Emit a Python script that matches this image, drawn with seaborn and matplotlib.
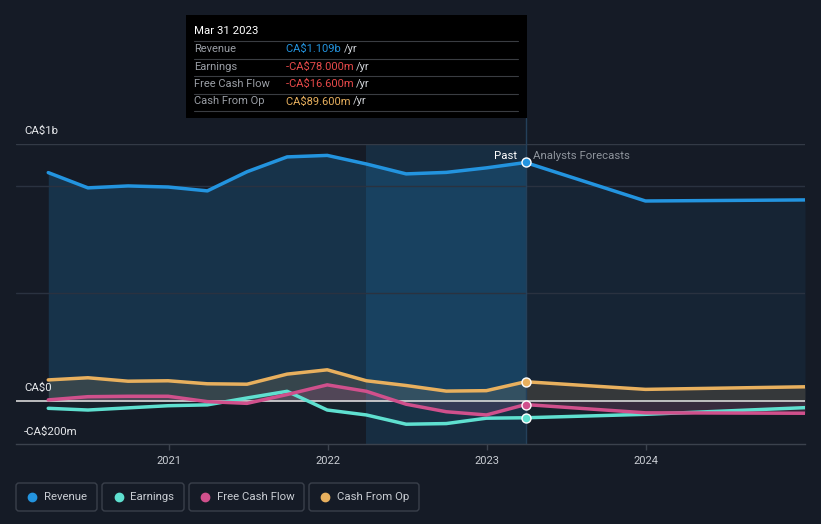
import pandas as pd
import matplotlib.pyplot as plt
from matplotlib.patches import Rectangle, FancyBboxPatch
from matplotlib.lines import Line2D
from matplotlib.transforms import IdentityTransform
import seaborn as sns

# -----------------------------
# Dati (CA$ milioni)
# -----------------------------
past_dates = ['2020-03-31', '2020-06-30', '2020-09-30', '2020-12-31',
              '2021-03-31', '2021-06-30', '2021-09-30', '2021-12-31',
              '2022-03-31', '2022-06-30', '2022-09-30', '2022-12-31',
              '2023-03-31']
forecast_dates = ['2023-12-31', '2024-12-31']

revenue_past = [1062, 991, 1000, 995, 977, 1066, 1135, 1142, 1102, 1056, 1063, 1084, 1109]
revenue_fc = [930, 935]
earnings_past = [-34, -42, -32, -22, -18, 14, 45, -42, -65, -108, -105, -80, -78]
earnings_fc = [-62, -31]
fcf_past = [5, 20, 22, 22, -3, -11, 30, 75, 45, -15, -50, -65, -16.6]
fcf_fc = [-55, -57]
cfo_past = [98, 108, 92, 94, 80, 78, 125, 145, 94, 72, 46, 48, 89.6]
cfo_fc = [54, 66]

series_names = ['Revenue', 'Earnings', 'Free Cash Flow', 'Cash From Op']
colors = {'Revenue': '#2394df', 'Earnings': '#5fe0d0',
          'Free Cash Flow': '#d0508c', 'Cash From Op': '#e8b05e'}
year_ticks = ['2021', '2022', '2023', '2024']

dates = pd.to_datetime(past_dates + forecast_dates)
df = pd.DataFrame({
    'date': dates,
    'Revenue': revenue_past + revenue_fc,
    'Earnings': earnings_past + earnings_fc,
    'Free Cash Flow': fcf_past + fcf_fc,
    'Cash From Op': cfo_past + cfo_fc,
})
long_df = df.melt(id_vars='date', var_name='series', value_name='value')

last_past = pd.Timestamp(past_dates[-1])
band_start = pd.Timestamp('2022-03-31')

# -----------------------------
# Figura
# -----------------------------
W, H = 821, 524
bg = '#151b26'
sns.set_theme(style='dark')
plt.rcParams['font.family'] = ['Roboto', 'DejaVu Sans']

fig = plt.figure(figsize=(W / 100, H / 100), dpi=100, facecolor=bg)


def px(x, y):
    return x / W, 1 - y / H


ax = fig.add_axes([16 / W, 1 - 444 / H, (805 - 16) / W, 300 / H])
ax.set_facecolor(bg)

# aree
past = df[df['date'] <= last_past]
fc = df[df['date'] >= last_past]
ax.fill_between(past['date'], 0, past['Revenue'], color=colors['Revenue'], alpha=0.2, lw=0)
ax.fill_between(fc['date'], 0, fc['Revenue'], color=colors['Revenue'], alpha=0.08, lw=0)
ax.fill_between(df['date'], 0, df['Cash From Op'], color=colors['Cash From Op'], alpha=0.15, lw=0)
ax.fill_between(df['date'], 0, df['Free Cash Flow'], color=colors['Free Cash Flow'], alpha=0.18, lw=0)
ax.fill_between(df['date'], 0, df['Earnings'], color=colors['Earnings'], alpha=0.04, lw=0)
ax.axvspan(band_start, last_past, color='#2394df', alpha=0.15, lw=0)

# griglia
for v, c in [(500, '#2a3240'), (1000, '#2a3240'), (1195, '#333a46')]:
    ax.axhline(v, color=c, lw=1, zorder=1)
ax.axhline(0, color='#d8d8d8', lw=1.2, zorder=2)

sns.lineplot(data=long_df, x='date', y='value', hue='series', hue_order=series_names,
             palette=colors, lw=2.5, legend=False, ax=ax, zorder=3,
             solid_capstyle='round', solid_joinstyle='round')

for name in series_names:
    ax.scatter([last_past], [df.loc[df['date'] == last_past, name].iloc[0]], s=42,
               color=colors[name], edgecolor='white', linewidth=1, zorder=5)

ax.axvline(last_past, color='#24405a', lw=1, zorder=1)

ax.set_xlim(pd.Timestamp('2020-01-17'), pd.Timestamp('2024-12-31'))
ax.set_ylim(-200, 1195)
ax.set_xticks(pd.to_datetime([y + '-01-01' for y in year_ticks]))
ax.set_xticklabels(year_ticks)
ax.set_yticks([])
ax.set_xlabel('')
ax.set_ylabel('')
ax.tick_params(axis='x', colors='#3b424d', labelcolor='#c9cdd3', labelsize=8,
               length=4, width=1, pad=5, direction='out', bottom=True)
for s in ['top', 'left', 'right']:
    ax.spines[s].set_visible(False)
ax.spines['bottom'].set_color('#3b424d')
ax.spines['bottom'].set_linewidth(1)
ax.grid(False)

# etichette asse y
for label, y in [('CA$1b', 131), ('CA$0', 388), ('-CA$200m', 432)]:
    fig.text(*px(24, y), label, color='#e6e8eb', fontsize=8.2, va='center', ha='left')

fig.text(*px(517, 156), 'Past', color='white', fontsize=8.2, va='center', ha='right')
fig.text(*px(533, 156), 'Analysts Forecasts', color='#8e949c', fontsize=8.2, va='center', ha='left')

# tooltip
fig.add_artist(Rectangle(px(186, 118), (527 - 186) / W, 103 / H, transform=fig.transFigure,
                         facecolor='#000000', edgecolor='none', zorder=10))
fig.add_artist(Line2D([526 / W, 526 / W], [1 - 118 / H, 1 - 144 / H], transform=fig.transFigure,
                      color='#24405a', lw=1))
fig.text(*px(194, 31), 'Mar 31 2023', color='white', fontsize=8.2, va='center', zorder=11)
for yl in [41, 58.5, 76, 93.5, 111]:
    fig.add_artist(Line2D([194 / W, 518 / W], [1 - yl / H] * 2, transform=fig.transFigure,
                          color='#3a3d42', lw=0.8, zorder=11))
rows = [('Revenue', 'CA$1.109b', '#2394df', 49),
        ('Earnings', '-CA$78.000m', '#e84a4a', 66.5),
        ('Free Cash Flow', '-CA$16.600m', '#e84a4a', 84),
        ('Cash From Op', 'CA$89.600m', '#e8b05e', 101.5)]
for lab, val, col, y in rows:
    fig.text(*px(194, y), lab, color='#9a9ea5', fontsize=8, va='center', zorder=11)
    t = fig.text(*px(286, y), val + ' ', color=col, fontsize=8, va='center', zorder=11)
    fig.canvas.draw()
    bb = t.get_window_extent()
    fig.text(bb.x1 / W, 1 - y / H, '/yr', color='#d0d3d8', fontsize=8, va='center', zorder=11)

# legenda
legend_boxes = [(16, 97, 32, 44), (102, 184, 119, 130), (189, 304, 205, 217), (309, 419, 325, 337)]
for name, (x0, x1, xd, xt) in zip(series_names, legend_boxes):
    fig.add_artist(FancyBboxPatch((x0, H - 511), x1 - x0, 28,
                                  boxstyle='round,pad=0,rounding_size=3',
                                  transform=IdentityTransform(), facecolor='none',
                                  edgecolor='#3a404b', lw=1))
    fig.add_artist(Line2D([xd / W], [1 - 497 / H], transform=fig.transFigure, marker='o',
                          markersize=6, color=colors[name], lw=0))
    fig.text(*px(xt, 497), name, color='#c9cdd3', fontsize=8.2, va='center', ha='left')

fig.savefig('out.png', dpi=100, facecolor=bg)
plt.close()
